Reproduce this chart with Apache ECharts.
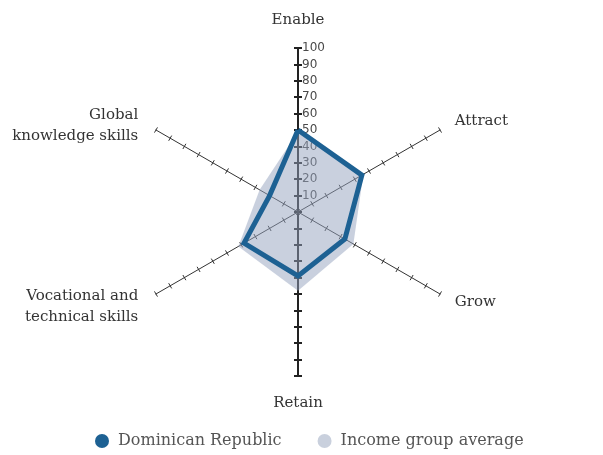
<!DOCTYPE html>
<html>
<head>
<meta charset="utf-8">
<script src="https://cdn.jsdelivr.net/npm/echarts@6/dist/echarts.min.js"></script>
<style>
  html, body { margin: 0; padding: 0; background: #fff; }
  #chart { width: 603px; height: 455px; }
</style>
</head>
<body>
<div id="chart"></div>
<script>
// Pillars, listed counter-clockwise from the top (ECharts radar order)
const pillars = ['Enable', 'Global\nknowledge skills', 'Vocational and\ntechnical skills', 'Retain', 'Grow', 'Attract'];
const countryName = 'Dominican Republic';
const countryScores = [50, 20, 38, 39, 33, 45];
const groupName = 'Income group average';
const groupScores = [49, 27, 42, 48, 39, 46];
const scaleMax = 100;
const scaleStep = 10;

const SERIF = '"DejaVu Serif", "Liberation Serif", serif';
const SANS = '"DejaVu Sans", "Liberation Sans", sans-serif';
const CENTER = [298, 212];
const RADIUS = 164;

const chart = echarts.init(document.getElementById('chart'), null, { renderer: 'canvas' });

function radarBase(indicators, startAngle, extra) {
  return Object.assign({
    center: CENTER,
    radius: RADIUS,
    startAngle: startAngle,
    shape: 'polygon',
    splitNumber: scaleMax / scaleStep,
    indicator: indicators,
    splitLine: { show: false },
    splitArea: { show: false },
    axisLabel: { show: false },
    axisName: { show: false },
    axisLine: { show: false },
    axisTick: { show: false }
  }, extra);
}

const oneAxis = () => [{ name: '', min: 0, max: scaleMax }];

// two-line names sit a little lower and further from their axis end
function formatName(name) {
  if (name.indexOf('\n') < 0) return name;
  return '{s|}\n' + name.split('\n').map(l => '{t|' + l + '}{g|}').join('\n');
}
const nameText = { color: '#333', fontFamily: SERIF, fontSize: 15, lineHeight: 21 };

const radars = [
  // all six axes as thin lines, with their names
  radarBase(pillars.map(n => ({ name: n, min: 0, max: scaleMax })), 90, {
    axisName: Object.assign({
      show: true,
      formatter: formatName,
      rich: {
        s: { lineHeight: 8, fontSize: 1 },
        t: Object.assign({}, nameText),
        g: { width: 3, fontSize: 15, lineHeight: 21 }
      }
    }, nameText),
    nameGap: 17,
    axisLine: { show: true, lineStyle: { color: '#333', width: 1 } }
  }),
  // the vertical axis (Enable / Retain) drawn heavier
  radarBase([{ name: '', min: 0, max: scaleMax }, { name: '', min: 0, max: scaleMax }], 90, {
    axisLine: { show: true, lineStyle: { color: '#222', width: 2 } }
  })
];

// Tick marks: radar ticks sit on one side of the axis, so each axis gets a
// one-indicator radar shifted half a tick length to the other side,
// which makes the ticks cross the axis symmetrically.
pillars.forEach((_, k) => {
  const angle = 90 + k * 360 / pillars.length;
  const vertical = (k === 0 || k === 3);
  const len = vertical ? 8 : 6;
  const rad = (angle - 90) * Math.PI / 180;
  const shift = [CENTER[0] + Math.cos(rad) * len / 2, CENTER[1] - Math.sin(rad) * len / 2];
  radars.push(radarBase(oneAxis(), angle, {
    center: shift,
    axisTick: { show: true, length: len, lineStyle: { color: vertical ? '#222' : '#333', width: vertical ? 2 : 1 } }
  }));
});

// value scale printed beside the Enable axis
radars.push(radarBase(oneAxis(), 90, {
  axisLabel: {
    show: true, showMinLabel: false, color: '#4a4a4a', fontFamily: SANS, fontSize: 12,
    align: 'left', margin: -4
  }
}));

chart.setOption({
  animation: false,
  backgroundColor: '#fff',
  legend: {
    data: [countryName, groupName],
    top: 428,
    left: 90,
    icon: 'circle',
    itemWidth: 22,
    itemHeight: 14,
    itemGap: 36,
    textStyle: { color: '#555', fontFamily: SERIF, fontSize: 16 }
  },
  radar: radars,
  series: [
    {
      name: groupName,
      type: 'radar',
      radarIndex: 0,
      symbol: 'none',
      z: 2,
      color: '#c9d0dd',
      lineStyle: { width: 0, color: 'rgba(147,161,189,0.5)' },
      areaStyle: { color: 'rgba(147,161,189,0.5)', opacity: 1 },
      data: [{ name: groupName, value: groupScores }]
    },
    {
      name: countryName,
      type: 'radar',
      radarIndex: 0,
      symbol: 'none',
      z: 4,
      color: '#1d6193',
      lineStyle: { width: 5, color: '#1d6193', join: 'miter' },
      data: [{ name: countryName, value: countryScores }]
    }
  ]
});
</script>
</body>
</html>
